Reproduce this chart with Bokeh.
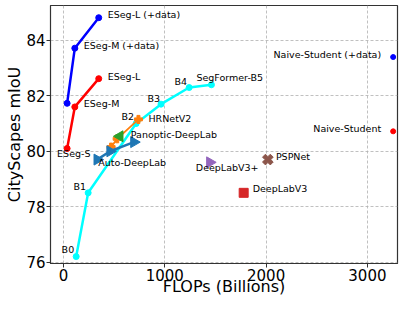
import math
from bokeh.plotting import figure
from bokeh.models import ColumnDataSource, FixedTicker, Range1d
from bokeh.core.properties import value
from bokeh.embed import file_html
from bokeh.resources import INLINE

# ---- data ----
eseg_data_x = [36, 112, 348]
eseg_data_y = [81.73, 83.72, 84.82]
eseg_x = [36, 112, 348]
eseg_y = [80.1, 81.6, 82.62]
segformer_x = [125.5, 243.7, 717.1, 962.9, 1240.6, 1460.4]
segformer_y = [76.2, 78.5, 81.0, 81.7, 82.3, 82.4]
hrnet_x = [470, 530, 740]
hrnet_y = [80.15, 80.45, 81.15]
panoptic_x = [556]
panoptic_y = [80.54]
autodl_x = [333, 460, 695]
autodl_y = [79.7, 80.0, 80.33]
dlv3p_x = [1444.6]
dlv3p_y = [79.6]
dlv3_x = [1778.7]
dlv3_y = [78.5]
psp_x = [2017.6]
psp_y = [79.7]
naive_x = [3254]
naive_y = [80.72]
naive_data_x = [3254]
naive_data_y = [83.4]

x_ticks = [0, 1000, 2000, 3000]
y_ticks = [76, 78, 80, 82, 84]

# label text, anchored on a data point
label_text = ["ESeg-L (+data)", "ESeg-M (+data)", "ESeg-L", "ESeg-M", "ESeg-S",
              "B0", "B1", "B2", "B3", "B4", "SegFormer-B5",
              "HRNetV2", "Panoptic-DeepLab", "Auto-DeepLab", "DeepLabV3+",
              "DeepLabV3", "PSPNet", "Naive-Student", "Naive-Student (+data)"]
label_x = [eseg_data_x[2], eseg_data_x[1], eseg_x[2], eseg_x[1], eseg_x[0],
           segformer_x[0], segformer_x[1], segformer_x[2], segformer_x[3], segformer_x[4], segformer_x[5],
           hrnet_x[2], panoptic_x[0], autodl_x[0], dlv3p_x[0],
           dlv3_x[0], psp_x[0], naive_x[0], naive_data_x[0]]
label_y = [eseg_data_y[2], eseg_data_y[1], eseg_y[2], eseg_y[1], eseg_y[0],
           segformer_y[0], segformer_y[1], segformer_y[2], segformer_y[3], segformer_y[4], segformer_y[5],
           hrnet_y[2], panoptic_y[0], autodl_y[0], dlv3p_y[0],
           dlv3_y[0], psp_y[0], naive_y[0], naive_data_y[0]]
# styling of labels (pixel offsets and alignment)
label_dx = [9, 9, 9, 9, -10, -2, -2, -2, -1, -2, -15, 10, 11, 1, -14, 9, 8, -12, -12]
label_dy = [-3, -3, -2, -3, 5, -7, -6, -7, -6, -6, -7, -1, -2, 3, 5, -4, -3, -3, -3]
label_align = ["left", "left", "left", "left", "left", "right", "right", "right", "right", "right",
               "left", "left", "left", "left", "left", "left", "left", "right", "right"]

FONT = "DejaVu Sans"

p = figure(width=399, height=298, output_backend="svg", toolbar_location=None,
           x_range=Range1d(-128, 3297), y_range=Range1d(75.95, 85.26),
           min_border_top=5, min_border_right=2, min_border_left=50, min_border_bottom=0)
p.background_fill_color = "white"
p.outline_line_color = "#333333"
p.outline_line_width = 1.2

for ax in (p.xaxis, p.yaxis):
    ax.axis_line_color = "#333333"
    ax.major_tick_line_color = "#333333"
    ax.major_tick_out = 4
    ax.major_tick_in = 0
    ax.minor_tick_line_color = None
    ax.major_label_text_font = FONT
    ax.major_label_text_font_size = "15px"
    ax.major_label_text_color = "black"
    ax.axis_label_text_font = FONT
    ax.axis_label_text_font_size = "16px"
    ax.axis_label_text_font_style = "normal"
    ax.axis_label_text_color = "black"

p.xaxis.major_label_standoff = 1
p.xaxis.axis_label_standoff = -7
p.yaxis.major_label_standoff = 1
p.yaxis.axis_label_standoff = -1

p.xaxis.ticker = FixedTicker(ticks=x_ticks)
p.yaxis.ticker = FixedTicker(ticks=y_ticks)
p.xaxis.axis_label = "FLOPs (Billions)"
p.yaxis.axis_label = "CityScapes mIoU"

for g in (p.xgrid, p.ygrid):
    g.grid_line_color = "#b0b0b0"
    g.grid_line_dash = "3 2"
    g.grid_line_width = 0.8

# ESeg (+data)
p.line(eseg_data_x, eseg_data_y, line_color="blue", line_width=2.5)
p.scatter(eseg_data_x, eseg_data_y, size=6, color="blue")
# ESeg
p.line(eseg_x, eseg_y, line_color="red", line_width=2.5)
p.scatter(eseg_x, eseg_y, size=6, color="red")
# SegFormer
p.line(segformer_x, segformer_y, line_color="cyan", line_width=2.5)
p.scatter(segformer_x, segformer_y, size=6, color="cyan")
# HRNetV2
p.line(hrnet_x, hrnet_y, line_color="#ff7f0e", line_width=1.8)
p.scatter(hrnet_x, hrnet_y, marker="plus", size=8, color="#ff7f0e")
# Panoptic-DeepLab
p.scatter(panoptic_x, panoptic_y, marker="triangle", angle=math.pi / 2, size=11, color="#2ca02c")
# Auto-DeepLab
p.line(autodl_x, autodl_y, line_color="#1f77b4", line_width=2.5)
p.scatter(autodl_x, autodl_y, marker="triangle", angle=-math.pi / 2, size=11, color="#1f77b4")
# DeepLabV3+
p.scatter(dlv3p_x, dlv3p_y, marker="triangle", angle=-math.pi / 2, size=11, color="#9467bd")
# DeepLabV3
p.scatter(dlv3_x, dlv3_y, marker="square", size=9, color="#d62728")
# PSPNet
p.scatter(psp_x, psp_y, marker="plus", angle=math.pi / 4, size=11, color="#8c564b")
# Naive-Student
p.scatter(naive_x, naive_y, size=5, color="red")
p.scatter(naive_data_x, naive_data_y, size=5, color="blue")

src = ColumnDataSource(dict(x=label_x, y=label_y, t=label_text, dx=label_dx, dy=label_dy, a=label_align))
p.text(x="x", y="y", text="t", x_offset="dx", y_offset="dy", text_align="a",
       text_baseline="middle", text_font=value(FONT), text_font_size="9.5px",
       text_color="black", source=src)

open("out.html", "w").write(file_html(p, INLINE))
